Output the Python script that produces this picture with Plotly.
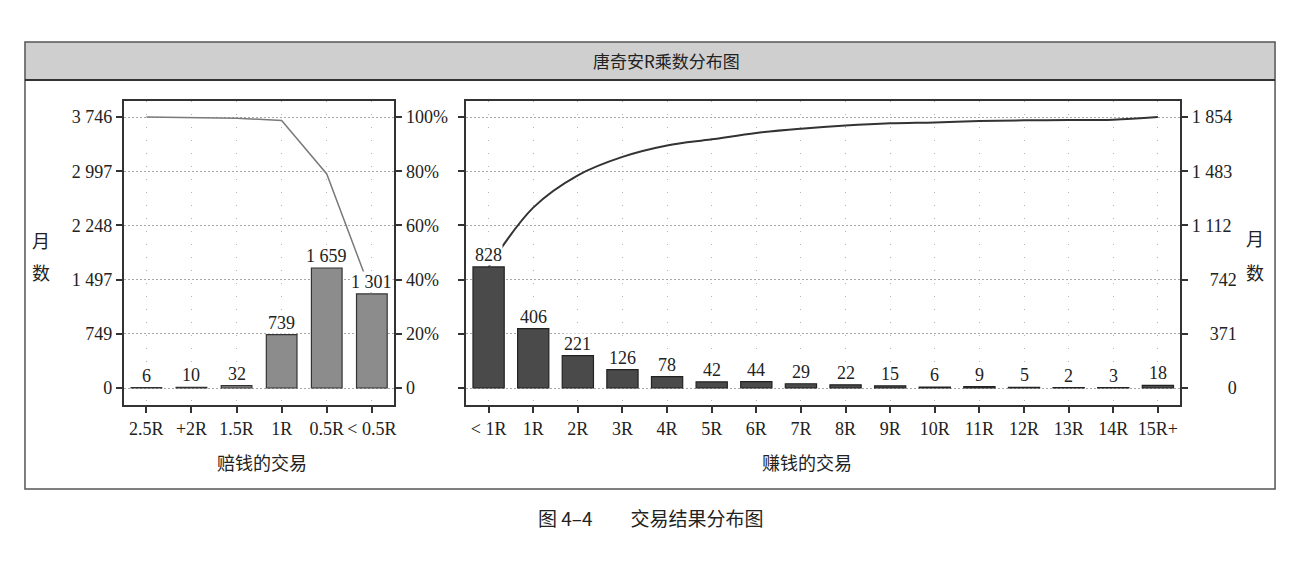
import plotly.graph_objects as go

# Dados
loss_cats = ["2.5R", "+2R", "1.5R", "1R", "0.5R", "< 0.5R"]
loss_counts = [6, 10, 32, 739, 1659, 1301]
loss_ticks = [0, 749, 1497, 2248, 2997, 3746]
pct_ticks = [0, 20, 40, 60, 80, 100]
pct_labels = ["0", "20%", "40%", "60%", "80%", "100%"]

win_cats = ["< 1R", "1R", "2R", "3R", "4R", "5R", "6R", "7R", "8R",
            "9R", "10R", "11R", "12R", "13R", "14R", "15R+"]
win_counts = [828, 406, 221, 126, 78, 42, 44, 29, 22, 15, 6, 9, 5, 2, 3, 18]
win_ticks = [0, 371, 742, 1112, 1483, 1854]

W, H = 1300, 562
OFF = 8  # a página desloca a figura 8px (margem do body)


def fx(px):
    return (px - OFF) / W


def fy(py):
    return 1 - (py - OFF) / H


def fmt(v):
    return f"{v:,}".replace(",", " ")


def fmt_right(v, width=5):
    # alinhar à direita com espaços de algarismo
    s = fmt(v)
    pad = width - len(s)
    return "\u2007" * pad + s


# percentagem acumulada (da direita para a esquerda) nas perdas
loss_total = sum(loss_counts)
loss_pct = []
acc = 0
for c in reversed(loss_counts):
    acc += c
    loss_pct.insert(0, acc / loss_total * 100)

# acumulado nos ganhos
win_cum = []
acc = 0
for c in win_counts:
    acc += c
    win_cum.append(acc)

serif = "Liberation Serif"
cjk = "Noto Sans CJK SC"

fig = go.Figure()

# painel esquerdo
fig.add_trace(go.Scatter(x=loss_cats, y=loss_pct, mode="lines", xaxis="x", yaxis="y2",
                         line=dict(color="#7a7a7a", width=1.5), showlegend=False))
fig.add_trace(go.Bar(x=loss_cats, y=loss_counts, xaxis="x", yaxis="y", width=0.68,
                     marker=dict(color="#8c8c8c", line=dict(color="#333", width=1.2)),
                     showlegend=False))

# painel direito
fig.add_trace(go.Bar(x=win_cats, y=win_counts, xaxis="x2", yaxis="y3", width=0.7,
                     marker=dict(color="#4a4a4a", line=dict(color="#222", width=1.2)),
                     showlegend=False))
fig.add_trace(go.Scatter(x=win_cats, y=win_cum, mode="lines", xaxis="x2", yaxis="y3",
                         line=dict(color="#333", width=2, shape="spline", smoothing=1),
                         showlegend=False))

top_px, zero_px, bot_px = 101, 388, 405
span = zero_px - (top_px + 16)


def yrange(vmax):
    per_px = vmax / span
    return [-(bot_px - zero_px) * per_px, vmax + 16 * per_px]


tickfont = dict(family=serif, size=18, color="#222")
xgrid = dict(showgrid=True, gridcolor="#b5b5b5", griddash="1px,12px", gridwidth=1)
ygrid = dict(showgrid=True, gridcolor="#a8a8a8", griddash="2px,2px", gridwidth=1)
ydom = [fy(bot_px), fy(top_px)]

fig.update_layout(
    width=W, height=H,
    margin=dict(l=0, r=0, t=0, b=0),
    paper_bgcolor="white", plot_bgcolor="white",
    bargap=0.3,
    xaxis=dict(domain=[fx(124), fx(395)], range=[-0.5, 5.5], showline=True, linecolor="#333",
               linewidth=2, mirror=True, ticks="outside", ticklen=6, tickwidth=2, tickcolor="#333",
               tickfont=tickfont, **xgrid),
    yaxis=dict(domain=ydom, range=yrange(3746), tickvals=loss_ticks,
               ticktext=[fmt(v) for v in loss_ticks], showline=True, linecolor="#333",
               linewidth=2, ticks="outside", ticklen=6, tickwidth=2, tickcolor="#333",
               tickfont=tickfont, zeroline=False, **ygrid),
    yaxis2=dict(overlaying="y", side="right", range=[r / 3746 * 100 for r in yrange(3746)],
                tickvals=pct_ticks, ticktext=pct_labels, showline=True, linecolor="#333",
                linewidth=2, ticks="outside", ticklen=6, tickwidth=2, tickcolor="#333",
                tickfont=tickfont, showgrid=False, zeroline=False),
    xaxis2=dict(domain=[fx(467), fx(1182)], range=[-0.5, 15.5], anchor="y3", showline=True,
                linecolor="#333", linewidth=2, mirror=True, ticks="outside", ticklen=6,
                tickwidth=2, tickcolor="#333", tickfont=tickfont, **xgrid),
    yaxis3=dict(domain=ydom, anchor="x2", side="right", range=yrange(1854), tickvals=win_ticks,
                ticktext=[fmt_right(v) for v in win_ticks], showline=True, linecolor="#333",
                linewidth=2, mirror="ticks", ticks="outside", ticklen=6, tickwidth=2,
                tickcolor="#333", tickfont=tickfont, zeroline=False, **ygrid),
)

# rótulos das barras com fundo branco
for c, v in zip(loss_cats, loss_counts):
    fig.add_annotation(x=c, y=v, xref="x", yref="y", text=fmt(v), showarrow=False,
                       yanchor="bottom", yshift=1, bgcolor="white", borderpad=0,
                       font=dict(family=serif, size=18, color="#222"))
for c, v in zip(win_cats, win_counts):
    fig.add_annotation(x=c, y=v, xref="x2", yref="y3", text=fmt(v), showarrow=False,
                       yanchor="bottom", yshift=1, bgcolor="white", borderpad=0,
                       font=dict(family=serif, size=18, color="#222"))

# moldura e barra do título
fig.add_shape(type="rect", xref="paper", yref="paper", x0=fx(25), x1=fx(1277),
              y0=fy(80), y1=fy(42), fillcolor="#cfcfcf", line=dict(width=0), layer="below")
fig.add_shape(type="rect", xref="paper", yref="paper", x0=fx(25), x1=fx(1277),
              y0=fy(489), y1=fy(42), line=dict(color="#555", width=1.5))
fig.add_shape(type="line", xref="paper", yref="paper", x0=fx(25), x1=fx(1277),
              y0=fy(80), y1=fy(80), line=dict(color="#333", width=2))

texts = [
    ("唐奇安R乘数分布图", 668, 61, 17, cjk),
    ("赔钱的交易", 262, 462, 18, cjk),
    ("赚钱的交易", 808, 462, 18, cjk),
    ("月", 41, 240, 18, cjk),
    ("数", 41, 272, 18, cjk),
    ("月", 1257, 238, 18, cjk),
    ("数", 1257, 272, 18, cjk),
    ("图 4–4　　交易结果分布图", 652, 517, 19, cjk),
]
for t, x, y, s, f in texts:
    fig.add_annotation(x=fx(x), y=fy(y), xref="paper", yref="paper", text=t, showarrow=False,
                       xanchor="center", yanchor="middle", font=dict(family=f, size=s, color="#222"))

fig.write_html("out.html")
